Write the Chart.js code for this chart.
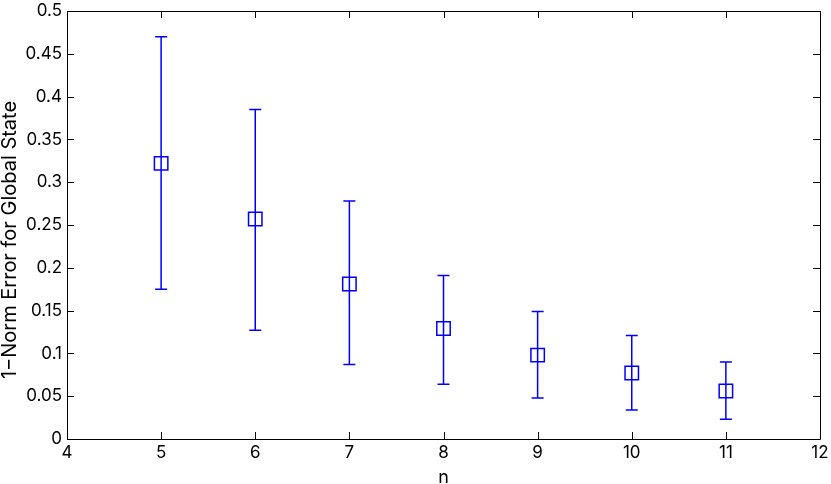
<!DOCTYPE html>
<html>
<head>
<meta charset="utf-8">
<script src="https://cdn.jsdelivr.net/npm/chart.js@4/dist/chart.umd.min.js"></script>
<style>
  html, body { margin: 0; padding: 0; background: #fff; }
  #wrap { width: 831px; height: 484px; position: relative; }
</style>
</head>
<body>
<div id="wrap"><canvas id="c" width="831" height="484"></canvas></div>
<script>
// ---- data ----
const nValues = [5, 6, 7, 8, 9, 10, 11];
const meanError = [0.322, 0.257, 0.181, 0.129, 0.098, 0.077, 0.056];
const lowerError = [0.175, 0.127, 0.087, 0.064, 0.048, 0.034, 0.023];
const upperError = [0.470, 0.385, 0.278, 0.191, 0.149, 0.121, 0.090];
const xTicks = [4, 5, 6, 7, 8, 9, 10, 11, 12];
const yTicks = [0, 0.05, 0.1, 0.15, 0.2, 0.25, 0.3, 0.35, 0.4, 0.45, 0.5];
const xTitle = 'n';
const yTitle = '1\u2212Norm Error for Global State';

const BLUE = 'rgb(0,0,255)';
const FONT = 'Inter, Liberation Sans, Arial, sans-serif';

const points = nValues.map((n, i) => ({ x: n, y: meanError[i] }));

const matlabPlugin = {
  id: 'matlab',
  beforeDatasetsDraw(chart) {
    const ctx = chart.ctx;
    const xs = chart.scales.x, ys = chart.scales.y;
    ctx.save();
    ctx.strokeStyle = BLUE;
    ctx.lineWidth = 1.5;
    const cap = 6;
    nValues.forEach((n, i) => {
      const px = xs.getPixelForValue(n);
      const yTop = ys.getPixelForValue(upperError[i]);
      const yBot = ys.getPixelForValue(lowerError[i]);
      ctx.beginPath();
      ctx.moveTo(px, yTop); ctx.lineTo(px, yBot);
      ctx.moveTo(px - cap, yTop); ctx.lineTo(px + cap, yTop);
      ctx.moveTo(px - cap, yBot); ctx.lineTo(px + cap, yBot);
      ctx.stroke();
    });
    ctx.restore();
  },
  afterDatasetsDraw(chart) {
    const ctx = chart.ctx;
    const a = chart.chartArea;
    const xs = chart.scales.x, ys = chart.scales.y;
    const tl = 7;
    ctx.save();
    ctx.strokeStyle = '#000';
    ctx.lineWidth = 1;
    ctx.beginPath();
    xTicks.forEach(v => {
      const px = Math.round(xs.getPixelForValue(v)) + 0.5;
      ctx.moveTo(px, a.bottom); ctx.lineTo(px, a.bottom - tl);
      ctx.moveTo(px, a.top); ctx.lineTo(px, a.top + tl);
    });
    yTicks.forEach(v => {
      const py = Math.round(ys.getPixelForValue(v)) + 0.5;
      ctx.moveTo(a.left, py); ctx.lineTo(a.left + tl, py);
      ctx.moveTo(a.right, py); ctx.lineTo(a.right - tl, py);
    });
    ctx.stroke();
    ctx.beginPath();
    ctx.rect(Math.round(a.left) + 0.5, Math.round(a.top) + 0.5,
             Math.round(a.right - a.left), Math.round(a.bottom - a.top));
    ctx.stroke();

    // y-axis title (MATLAB places it slightly below the axis centre)
    ctx.fillStyle = '#000';
    ctx.font = '20px ' + FONT;
    ctx.textAlign = 'center';
    ctx.textBaseline = 'middle';
    ctx.translate(10, (a.top + a.bottom) / 2 + 15);
    ctx.rotate(-Math.PI / 2);
    ctx.fillText(yTitle, 0, 0);
    ctx.restore();
  }
};

new Chart(document.getElementById('c'), {
  type: 'scatter',
  data: {
    datasets: [{
      data: points,
      showLine: false,
      pointStyle: 'rect',
      pointRadius: 9.5,
      pointHoverRadius: 9.5,
      pointBorderWidth: 1.5,
      pointBorderColor: BLUE,
      pointBackgroundColor: 'rgba(0,0,0,0)'
    }]
  },
  options: {
    responsive: false,
    animation: false,
    devicePixelRatio: 1,
    layout: { padding: { left: 0, right: 9, top: 5, bottom: 0 } },
    plugins: { legend: { display: false }, tooltip: { enabled: false } },
    scales: {
      x: {
        type: 'linear',
        min: 4, max: 12,
        afterBuildTicks(scale) { scale.ticks = xTicks.map(v => ({ value: v })); },
        afterFit(scale) { scale.height = 45; scale.paddingLeft = 0; scale.paddingRight = 0; },
        grid: { display: false, drawTicks: false },
        border: { display: false },
        ticks: {
          color: '#000', padding: 4,
          font: { family: FONT, size: 17 },
          maxRotation: 0, autoSkip: false,
          callback: v => String(v)
        },
        title: {
          display: true, text: xTitle, color: '#000',
          font: { family: FONT, size: 18, lineHeight: 1 },
          padding: { top: 0, bottom: -3 }
        }
      },
      y: {
        type: 'linear',
        min: 0, max: 0.5,
        afterBuildTicks(scale) { scale.ticks = yTicks.map(v => ({ value: v })); },
        afterFit(scale) { scale.width = 67; scale.paddingTop = 0; scale.paddingBottom = 0; },
        grid: { display: false, drawTicks: false },
        border: { display: false },
        ticks: {
          color: '#000', padding: 5,
          font: { family: FONT, size: 17 },
          autoSkip: false,
          callback: v => String(v)
        },
        title: { display: false }
      }
    }
  },
  plugins: [matlabPlugin]
});
</script>
</body>
</html>
